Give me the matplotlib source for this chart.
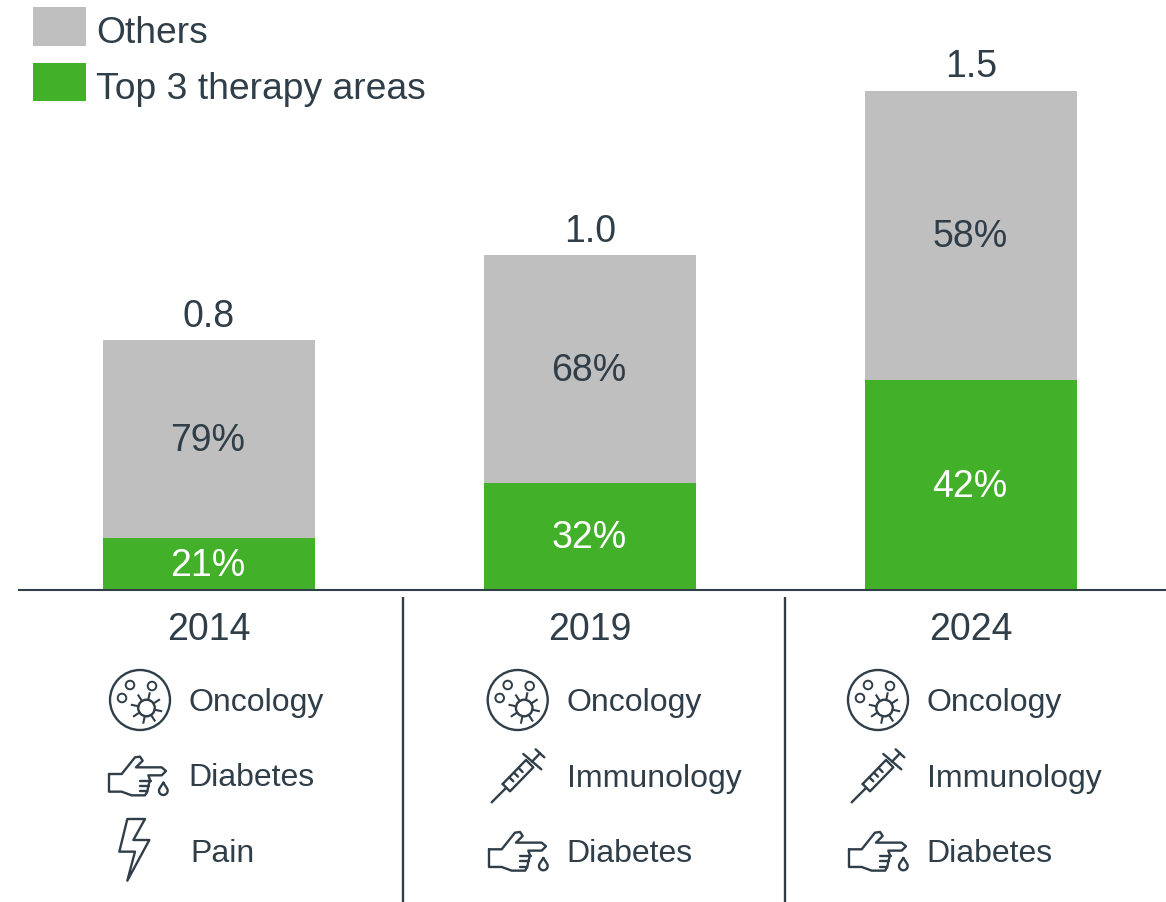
import matplotlib
matplotlib.use("Agg")
import matplotlib.pyplot as plt
import numpy as np
from matplotlib.patches import Circle, Polygon

plt.rcParams['font.family'] = ['Liberation Sans', 'DejaVu Sans']

years = ['2014', '2019', '2024']
totals = [0.75, 1.005, 1.5]
top3_share = [21, 32, 42]
others_share = [79, 68, 58]
areas = [['Oncology', 'Diabetes', 'Pain'],
         ['Oncology', 'Immunology', 'Diabetes'],
         ['Oncology', 'Immunology', 'Diabetes']]

GREEN = '#43B02A'
GREY = '#BFBFBF'
INK = '#2F3E48'
W, H = 1166, 902
BASE = 590
PX_PER_UNIT = 333.0
STEP = 381.0
X0 = 209.0

fig = plt.figure(figsize=(W / 100, H / 100), dpi=100, facecolor='white')
ax = fig.add_axes([0, (H - BASE) / H, 1, BASE / H])
ax.set_xlim(-X0 / STEP, (W - X0) / STEP)
ax.set_ylim(0, BASE / PX_PER_UNIT)
for s in ax.spines.values():
    s.set_visible(False)
ax.set_yticks([])

x = np.arange(len(years))
tot = np.array(totals)
top = tot * np.array(top3_share) / 100
oth = tot * np.array(others_share) / 100
bw = 212 / STEP
b_top = ax.bar(x, top, bw, color=GREEN, label='Top 3 therapy areas')
b_oth = ax.bar(x, oth, bw, bottom=top, color=GREY, label='Others')

ax.set_xticks(x, years, fontsize=27, color=INK)
ax.tick_params(axis='x', length=0, pad=16)
ax.plot([18 / W, 1], [0, 0], transform=ax.transAxes, color=INK, lw=1.5,
        clip_on=False, solid_capstyle='butt', zorder=5)

for i in x:
    ax.annotate(f'{top3_share[i]}%', (i, top[i] / 2), xytext=(-0.7, 1.5),
                textcoords='offset points', ha='center', va='center_baseline',
                color='white', fontsize=27)
    ax.annotate(f'{others_share[i]}%', (i, top[i] + oth[i] / 2), xytext=(-0.7, 1.5),
                textcoords='offset points', ha='center', va='center_baseline',
                color=INK, fontsize=27)
    ax.annotate(f'{totals[i]:.1f}', (i, tot[i]), xytext=(0, 4), textcoords='offset points',
                ha='center', va='bottom', color=INK, fontsize=27)

leg = ax.legend(handles=[b_oth, b_top], loc='upper left', bbox_to_anchor=(33 / W, 1 - 7 / BASE),
                frameon=False, fontsize=26.8, borderpad=0, borderaxespad=0,
                handlelength=1.42, handleheight=1.23, handletextpad=0.28, labelspacing=0.42,
                labelcolor=INK)
for t in leg.get_texts():
    t.set_y(-4)

# pixel overlay for the lower panel
ov = fig.add_axes([0, 0, 1, 1], facecolor='none')
ov.set_xlim(0, W)
ov.set_ylim(H, 0)
ov.axis('off')
LW = 1.7

for dx in (403, 785):
    ov.plot([dx, dx], [597, H], color=INK, lw=1.7, solid_capstyle='butt')


def poly(pts, ox, oy, closed=False, lw=LW):
    p = np.array(pts, float) / 3 + [ox, oy]
    if closed:
        ov.add_patch(Polygon(p, closed=True, fill=False, ec=INK, lw=lw, joinstyle='round'))
    else:
        ov.plot(p[:, 0], p[:, 1], color=INK, lw=lw, solid_capstyle='round', solid_joinstyle='round')


def onc(cx, cy):
    ov.add_patch(Circle((cx, cy), 30, fill=False, ec=INK, lw=LW))
    for dx, dy in ((-10, -15), (12, -14), (-18, -2)):
        ov.add_patch(Circle((cx + dx, cy + dy), 4.3, fill=False, ec=INK, lw=LW - 0.3))
    vx, vy = cx + 6.5, cy + 8
    ov.add_patch(Circle((vx, vy), 8.3, fill=False, ec=INK, lw=LW))
    for a in np.deg2rad(np.arange(8) * 45 + 12):
        ov.plot([vx + 8.3 * np.cos(a), vx + 15 * np.cos(a)],
                [vy + 8.3 * np.sin(a), vy + 15 * np.sin(a)], color=INK, lw=LW - 0.2)


def hand(ox, oy):
    # coordinates are 3x pixels relative to the crop origin of the icon
    poly([(57, 372), (95, 372), (135, 322), (150, 320), (158, 332), (138, 352), (215, 352),
          (228, 363), (215, 376), (175, 376), (180, 390), (175, 408), (172, 425), (165, 436),
          (125, 436), (95, 425), (57, 425), (57, 372)], ox, oy)
    poly([(150, 392), (183, 392)], ox, oy)
    poly([(150, 408), (178, 408)], ox, oy)
    poly([(150, 424), (172, 424)], ox, oy)
    t = np.deg2rad(np.linspace(-30, 210, 16))
    drop = [(220, 398)] + [(220 + 13 * np.cos(a), 422 + 13 * np.sin(a)) for a in t] + [(220, 398)]
    poly(drop, ox, oy)


def bolt(ox, oy):
    poly([(112, 507), (165, 507), (130, 570), (178, 570), (112, 692), (135, 605), (88, 605)],
         ox, oy, closed=True)


def syringe(ox, oy):
    poly([(65, 457), (108, 414)], ox, oy)
    poly([(98, 402), (120, 424), (190, 352), (168, 330), (98, 402)], ox, oy)
    poly([(160, 312), (214, 358)], ox, oy)
    poly([(186, 335), (210, 310)], ox, oy)
    poly([(197, 298), (223, 322)], ox, oy)
    for a, b in [((118, 382), (130, 394)), ((132, 368), (144, 380)), ((146, 354), (158, 366))]:
        poly([a, b], ox, oy)


TXT_Y = [700, 775, 851]
TXT_X = [189, 567, 927]
ONC_X = [140, 517.7, 878]
NUDGE = {'Pain': 1, 'Diabetes': -1}
for col, names in enumerate(areas):
    for row, name in enumerate(names):
        tx = TXT_X[col] + NUDGE.get(name, 0)
        ov.text(tx, TXT_Y[row], name, ha='left', va='center_baseline', color=INK, fontsize=23)

for c in ONC_X:
    onc(c, 700)
hand(90, 650)
bolt(90, 650)
hand(470, 650 + 75.3)
hand(830, 650 + 75.3)
syringe(470, 650)
syringe(830, 650)

fig.savefig('out.png', dpi=100, facecolor='white')
